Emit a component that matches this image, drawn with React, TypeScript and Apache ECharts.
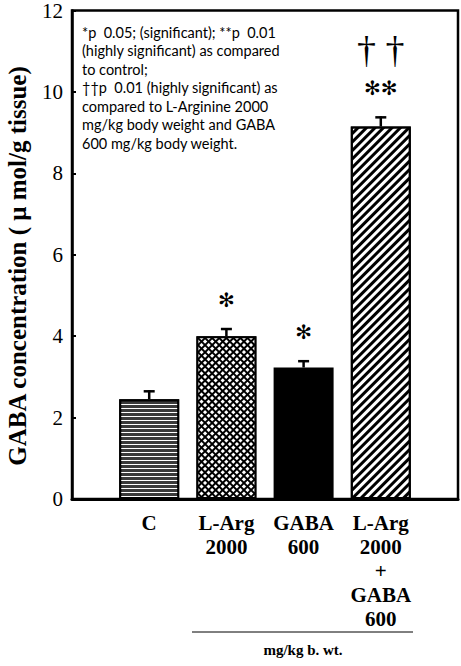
import React, { useEffect, useRef } from "react";
import * as echarts from "echarts";

const categories = ["", "C", "L-Arg\n2000", "GABA\n600", "L-Arg\n2000\n+\nGABA\n600", ""];
const means: (number | null)[] = [null, 2.45, 4.0, 3.23, 9.15, null];
const errors: (number | null)[] = [null, 0.22, 0.2, 0.18, 0.25, null];
const starMarks = ["", "", "✻", "✻", "✻✻", ""];
const daggerMarks = ["", "", "", "", "† †", ""];
const noteLines = [
  "*p  0.05; (significant); **p  0.01",
  "(highly significant) as compared",
  "to control;",
  "††p  0.01 (highly significant) as",
  "compared to L-Arginine 2000",
  "mg/kg body weight and GABA",
  "600 mg/kg body weight.",
];
const yAxisTitle = "GABA concentration ( μ mol/g tissue)";
const unitLabel = "mg/kg b. wt.";

const SERIF = "Liberation Serif";

const barStyles: any[] = [
  null,
  {
    color: "#3a3a3a",
    borderColor: "#000",
    borderWidth: 2,
    decal: { symbol: "rect", color: "#fff", dashArrayX: [1, 0], dashArrayY: [1, 2.5], symbolSize: 1, rotation: 0 },
  },
  {
    color: "#000",
    borderColor: "#000",
    borderWidth: 2,
    decal: { symbol: "rect", color: "#fff", dashArrayX: [3, 1.9], dashArrayY: [3, 1.9], symbolSize: 1, rotation: Math.PI / 4 },
  },
  { color: "#000", borderColor: "#000", borderWidth: 2 },
  {
    color: "#fff",
    borderColor: "#000",
    borderWidth: 2,
    decal: { symbol: "rect", color: "#000", dashArrayX: [1, 0], dashArrayY: [2.4, 3], symbolSize: 1, rotation: -Math.PI / 4 },
  },
  null,
];

export default function App() {
  const ref = useRef<HTMLDivElement>(null);
  useEffect(() => {
    if (!ref.current) return;
    const chart = echarts.init(ref.current, null, { renderer: "svg" });
    const barData = means.map((v, i) =>
      v == null ? null : { value: v, itemStyle: barStyles[i] }
    );
    const errData = means
      .map((v, i) => (v == null ? null : [i, v, errors[i] as number]))
      .filter((d) => d != null);
    chart.setOption({
      animation: false,
      backgroundColor: "#fff",
      textStyle: { fontFamily: SERIF },
      grid: {
        left: 72,
        top: 10,
        right: 3,
        bottom: 167,
        show: true,
        borderColor: "#000",
        borderWidth: 2.5,
        backgroundColor: "transparent",
      },
      xAxis: {
        type: "category",
        data: categories,
        boundaryGap: false,
        axisLine: { show: true, lineStyle: { color: "#000", width: 3 } },
        axisTick: { show: false },
        splitLine: { show: false },
        axisLabel: {
          interval: 0,
          margin: 12,
          color: "#000",
          fontFamily: SERIF,
          fontWeight: "bold",
          fontSize: 21,
          lineHeight: 24,
          align: "center",
        },
      },
      yAxis: {
        type: "value",
        min: 0,
        max: 12,
        interval: 2,
        axisLine: { show: true, lineStyle: { color: "#000", width: 2.5 } },
        axisTick: { show: true, inside: true, length: 4, lineStyle: { color: "#000", width: 2 } },
        splitLine: { show: false },
        axisLabel: { color: "#000", fontFamily: SERIF, fontSize: 21, margin: 9 },
      },
      series: [
        {
          type: "bar",
          data: barData,
          barWidth: 60,
          z: 2,
        },
        {
          type: "custom",
          z: 5,
          data: errData,
          renderItem: (params: any, api: any) => {
            const i = api.value(0);
            const m = api.value(1);
            const e = api.value(2);
            const top = api.coord([i, m]);
            const et = api.coord([i, m + e]);
            const children: any[] = [
              {
                type: "line",
                shape: { x1: top[0], y1: top[1], x2: et[0], y2: et[1] },
                style: { stroke: "#000", lineWidth: 2.5 },
              },
              {
                type: "line",
                shape: { x1: et[0] - 5.5, y1: et[1] + 1, x2: et[0] + 5.5, y2: et[1] + 1 },
                style: { stroke: "#000", lineWidth: 2.5 },
              },
            ];
            if (starMarks[i]) {
              children.push({
                type: "text",
                x: et[0],
                y: et[1] - 28,
                style: {
                  text: starMarks[i],
                  fill: "#000",
                  font: "bold 20px 'DejaVu Sans'",
                  align: "center",
                  verticalAlign: "middle",
                },
              });
            }
            if (daggerMarks[i]) {
              children.push({
                type: "text",
                x: et[0],
                y: et[1] - 66,
                style: {
                  text: daggerMarks[i],
                  fill: "#000",
                  font: "38px 'Liberation Serif'",
                  align: "center",
                  verticalAlign: "middle",
                },
              });
            }
            return { type: "group", children };
          },
        },
      ],
      graphic: [
        {
          type: "text",
          x: 17,
          y: 266,
          rotation: Math.PI / 2,
          style: {
            text: yAxisTitle,
            fill: "#000",
            font: "bold 25px 'Liberation Serif'",
            align: "center",
            verticalAlign: "middle",
          },
        },
        {
          type: "text",
          left: 82,
          top: 23,
          style: {
            text: noteLines.join("\n"),
            fill: "#000",
            font: "14.5px Lato",
            lineHeight: 18.5,
          },
        },
        {
          type: "line",
          shape: { x1: 192, y1: 632, x2: 413, y2: 632 },
          style: { stroke: "#000", lineWidth: 1 },
        },
        {
          type: "text",
          x: 303,
          y: 650,
          style: {
            text: unitLabel,
            fill: "#000",
            font: "bold 15px 'Liberation Serif'",
            align: "center",
            verticalAlign: "middle",
          },
        },
      ],
    });
    return () => chart.dispose();
  }, []);
  return (
    <div
      ref={ref}
      style={{ position: "fixed", left: 0, top: 0, width: 461, height: 666, background: "#fff" }}
    />
  );
}
